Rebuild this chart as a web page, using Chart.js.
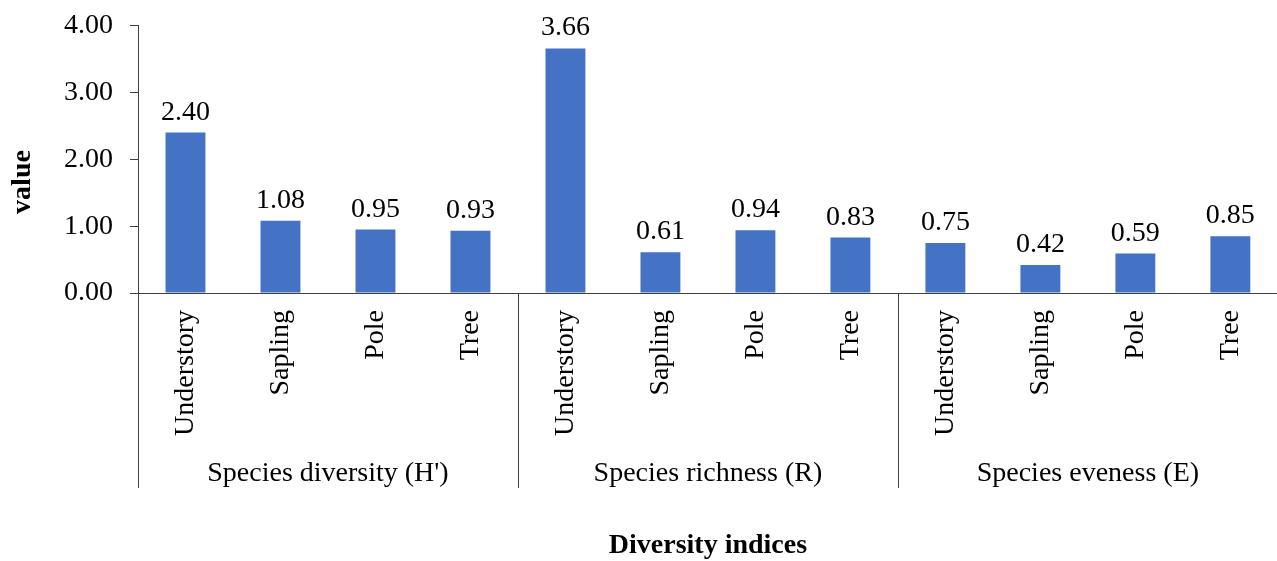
<!DOCTYPE html>
<html>
<head>
<meta charset="utf-8">
<style>
  html, body { margin: 0; padding: 0; background: #fff; overflow: hidden; }
  #wrap { width: 1281px; height: 561px; }
</style>
<script src="https://cdn.jsdelivr.net/npm/chart.js@4.4.1/dist/chart.umd.min.js"></script>
</head>
<body>
<div id="wrap"><canvas id="c" width="1281" height="561"></canvas></div>
<script>
// Diversity indices by vegetation layer
const groups = ["Species diversity (H')", "Species richness (R)", "Species eveness (E)"];
const layers = ["Understory", "Sapling", "Pole", "Tree"];
const diversityH = [2.40, 1.08, 0.95, 0.93];
const richnessR = [3.66, 0.61, 0.94, 0.83];
const evenessE = [0.75, 0.42, 0.59, 0.85];
const yTicks = [0, 1, 2, 3, 4];

const categories = [].concat(layers, layers, layers);
const values = [].concat(diversityH, richnessR, evenessE);

const FONT = '"Liberation Serif", "Times New Roman", serif';
const AXIS = '#404040';
const SIZE = 28;

// Value labels, group labels, group separators and axis titles
const annotate = {
  id: 'annotate',
  afterDatasetsDraw(chart) {
    const ctx = chart.ctx;
    const meta = chart.getDatasetMeta(0);
    ctx.save();
    ctx.fillStyle = '#000';
    ctx.font = SIZE + 'px ' + FONT;
    ctx.textAlign = 'center';
    ctx.textBaseline = 'alphabetic';
    meta.data.forEach((bar, i) => {
      ctx.fillText(values[i].toFixed(2), bar.x, bar.y - 13);
    });
    ctx.restore();
  },
  afterDraw(chart) {
    const ctx = chart.ctx;
    const x = chart.scales.x;
    const area = chart.chartArea;
    const n = layers.length;
    ctx.save();
    // separators between groups
    ctx.strokeStyle = AXIS;
    ctx.lineWidth = 1;
    for (let g = 0; g <= groups.length; g++) {
      const px = Math.round(x.getPixelForValue(g * n - 0.5)) + 0.5;
      ctx.beginPath();
      ctx.moveTo(px, area.bottom);
      ctx.lineTo(px, 488);
      ctx.stroke();
    }
    // group labels
    ctx.fillStyle = '#000';
    ctx.font = SIZE + 'px ' + FONT;
    ctx.textAlign = 'center';
    ctx.textBaseline = 'alphabetic';
    groups.forEach((name, g) => {
      const cx = (x.getPixelForValue(g * n - 0.5) + x.getPixelForValue(g * n + n - 0.5)) / 2;
      ctx.fillText(name, cx, 481);
    });
    // x axis title
    ctx.font = 'bold 28px ' + FONT;
    ctx.fillText('Diversity indices', (area.left + area.right) / 2, 553);
    // y axis title
    ctx.translate(23, 182);
    ctx.rotate(-Math.PI / 2);
    ctx.textBaseline = 'middle';
    ctx.font = 'bold 28px ' + FONT;
    ctx.fillText('value', 0, 0);
    ctx.restore();
  }
};

new Chart(document.getElementById('c'), {
  type: 'bar',
  data: {
    labels: categories,
    datasets: [{
      data: values,
      backgroundColor: '#4472C4',
      borderWidth: 0,
      barPercentage: 0.42,
      categoryPercentage: 1.0
    }]
  },
  options: {
    responsive: false,
    animation: false,
    layout: { padding: { top: 0, right: 1, left: 0, bottom: 0 } },
    plugins: { legend: { display: false }, tooltip: { enabled: false } },
    scales: {
      x: {
        grid: { display: false, drawTicks: false },
        border: { display: true, color: AXIS, width: 1 },
        ticks: {
          autoSkip: false,
          minRotation: 90,
          maxRotation: 90,
          padding: 17,
          color: '#000',
          font: { family: FONT, size: SIZE }
        },
        afterFit(scale) { scale.height = 268; }
      },
      y: {
        min: 0,
        max: 4,
        afterBuildTicks(scale) { scale.ticks = yTicks.map(v => ({ value: v })); },
        grid: { display: true, drawOnChartArea: false, drawTicks: true, tickLength: 8, color: AXIS },
        border: { display: true, color: AXIS, width: 1 },
        ticks: {
          padding: 17,
          color: '#000',
          font: { family: FONT, size: SIZE, lineHeight: 0.62 },
          callback: v => Number(v).toFixed(2)
        },
        afterFit(scale) { scale.width = 138; }
      }
    }
  },
  plugins: [annotate]
});
</script>
</body>
</html>
